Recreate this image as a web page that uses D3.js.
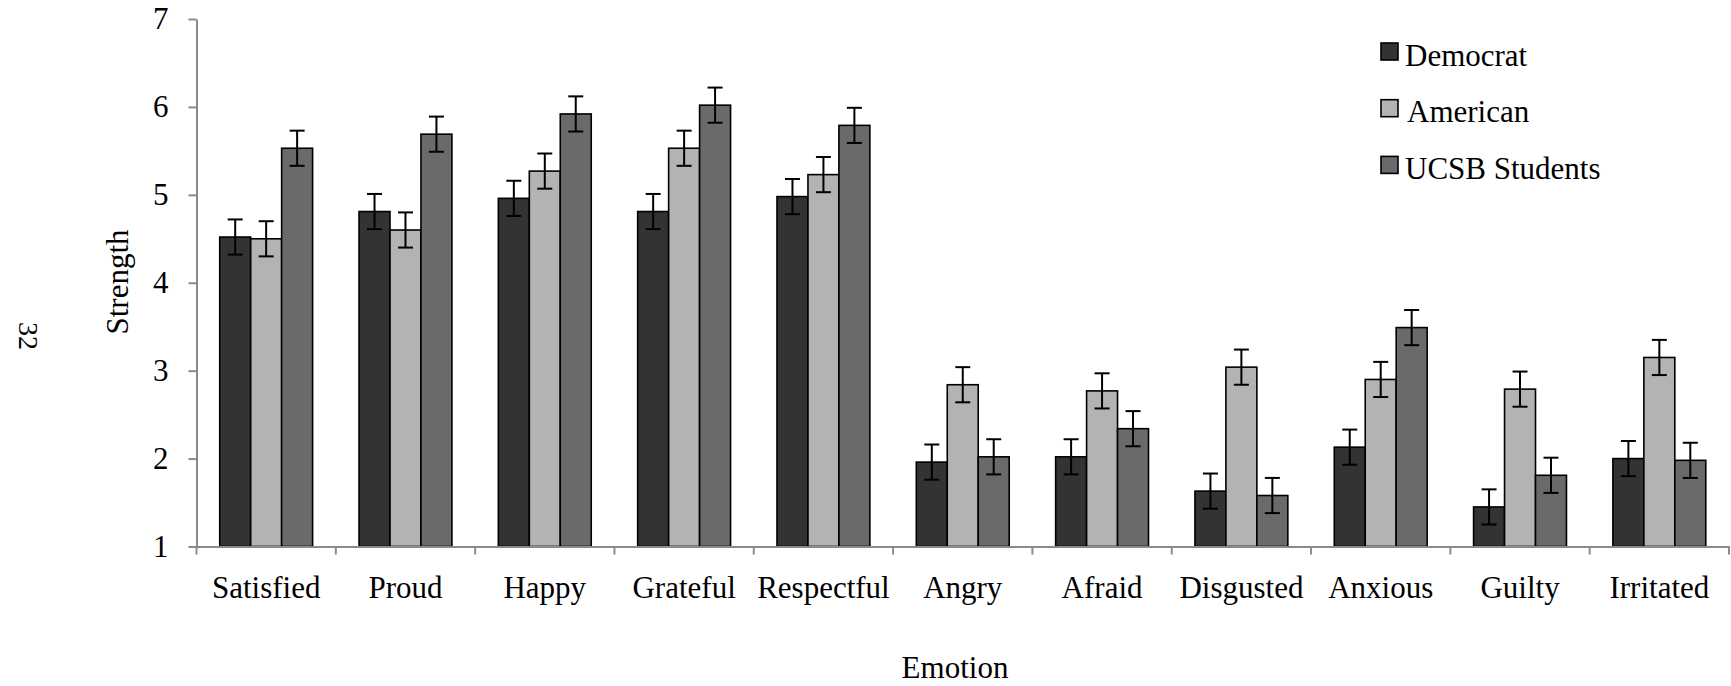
<!DOCTYPE html>
<html>
<head>
<meta charset="utf-8">
<script src="https://cdn.jsdelivr.net/npm/d3@7"></script>
<style>
	body { margin: 0; background: #fff; }
	svg { display: block; font-family: "Liberation Serif", "Times New Roman", serif; }
</style>
</head>
<body>
<svg id="chart" width="1731" height="686"></svg>
<script>
// data
var emotions	= ["Satisfied", "Proud", "Happy", "Grateful", "Respectful", "Angry", "Afraid", "Disgusted", "Anxious", "Guilty", "Irritated"];
var groups	= ["Democrat", "American", "UCSB Students"];
var democrat	= [4.52, 4.81, 4.96, 4.81, 4.98, 1.96, 2.02, 1.63, 2.13, 1.45, 2.00];
var american	= [4.50, 4.60, 5.27, 5.53, 5.23, 2.84, 2.77, 3.04, 2.90, 2.79, 3.15];
var ucsb	= [5.53, 5.69, 5.92, 6.02, 5.79, 2.02, 2.34, 1.58, 3.49, 1.81, 1.98];
var errDemocrat	= [0.2, 0.2, 0.2, 0.2, 0.2, 0.2, 0.2, 0.2, 0.2, 0.2, 0.2];
var errAmerican	= [0.2, 0.2, 0.2, 0.2, 0.2, 0.2, 0.2, 0.2, 0.2, 0.2, 0.2];
var errUcsb	= [0.2, 0.2, 0.2, 0.2, 0.2, 0.2, 0.2, 0.2, 0.2, 0.2, 0.2];
var yTicks	= [1, 2, 3, 4, 5, 6, 7];

var values	= [democrat, american, ucsb],
	errors	= [errDemocrat, errAmerican, errUcsb],
	colors	= ["#333333", "#b3b3b3", "#6a6a6a"];

var svg	= d3.select("#chart"),
	margin	= {top: 19, left: 196.5},
	width	= 1729 - margin.left,
	height	= 546.5 - margin.top,
	g	= svg.append("g").attr("transform", "translate(" + margin.left + "," + margin.top + ")");

var x0	= d3.scaleBand().domain(emotions).range([0, width]),
	bw	= x0.bandwidth(),
	x1	= d3.scaleBand().domain(groups).range([bw / 6, bw * 5 / 6]),
	y	= d3.scaleLinear().domain([1, 7]).range([height, 0]);

var rows = [];
emotions.forEach(function(e, i) {
	groups.forEach(function(s, j) {
		rows.push({emotion: e, group: s, value: values[j][i], err: errors[j][i], color: colors[j]});
	});
});

// bars
g.append("g").selectAll("rect").data(rows).enter().append("rect")
	.attr("x", function(d) { return x0(d.emotion) + x1(d.group); })
	.attr("y", function(d) { return y(d.value); })
	.attr("width", x1.bandwidth())
	.attr("height", function(d) { return height - y(d.value); })
	.attr("fill", function(d) { return d.color; })
	.attr("stroke", "#000").attr("stroke-width", 1.6);

// error bars
var eb = g.append("g").attr("stroke", "#000").attr("stroke-width", 2).selectAll("g").data(rows).enter().append("g")
	.attr("transform", function(d) { return "translate(" + (x0(d.emotion) + x1(d.group) + x1.bandwidth() / 2) + ",0)"; });
eb.append("line").attr("y1", function(d) { return y(d.value + d.err); }).attr("y2", function(d) { return y(d.value - d.err); });
eb.append("line").attr("x1", -7.5).attr("x2", 7.5).attr("y1", function(d) { return y(d.value + d.err); }).attr("y2", function(d) { return y(d.value + d.err); });
eb.append("line").attr("x1", -7.5).attr("x2", 7.5).attr("y1", function(d) { return y(d.value - d.err); }).attr("y2", function(d) { return y(d.value - d.err); });

// y axis
var ya = g.append("g").attr("class", "y axis")
	.call(d3.axisLeft(y).tickValues(yTicks).tickFormat(d3.format("d")).tickSize(8).tickSizeOuter(0).tickPadding(20))
	.attr("font-family", null).attr("font-size", 31);
ya.selectAll("line, path").attr("stroke", "#8a8a8a").attr("stroke-width", 2);
ya.selectAll("text").attr("fill", "#000");

// x axis: labels at band centres, tick marks on band edges
var xa = g.append("g").attr("class", "x axis").attr("transform", "translate(0," + height + ")")
	.call(d3.axisBottom(x0).tickSize(0).tickPadding(29.5).tickSizeOuter(0))
	.attr("font-family", null).attr("font-size", 31);
xa.select(".domain").attr("stroke", "#8a8a8a").attr("stroke-width", 2);
xa.selectAll("text").attr("fill", "#000");
xa.selectAll(".edge").data(emotions.map(function(e) { return x0(e); }).concat([width])).enter().append("line")
	.attr("class", "edge").attr("x1", function(d) { return d; }).attr("x2", function(d) { return d; })
	.attr("y1", 0).attr("y2", 8).attr("stroke", "#8a8a8a").attr("stroke-width", 2);

// axis titles
svg.append("text").attr("x", 955).attr("y", 678).attr("text-anchor", "middle").attr("font-size", 31).text("Emotion");
svg.append("text").attr("transform", "translate(128,282) rotate(-90)").attr("text-anchor", "middle").attr("font-size", 31).text("Strength");
svg.append("text").attr("transform", "translate(19,336) rotate(90)").attr("text-anchor", "middle").attr("font-size", 28).text("32");

// legend
var lg = svg.append("g").selectAll("g").data(groups).enter().append("g")
	.attr("transform", function(d, i) { return "translate(1381," + (43 + i * 56.7) + ")"; });
lg.append("rect").attr("width", 17).attr("height", 17)
	.attr("fill", function(d, i) { return colors[i]; }).attr("stroke", "#000").attr("stroke-width", 1.6);
lg.append("text").attr("x", function(d, i) { return i == 1 ? 26 : 24; }).attr("y", 22.5).attr("font-size", 31).text(function(d) { return d; });
</script>
</body>
</html>
